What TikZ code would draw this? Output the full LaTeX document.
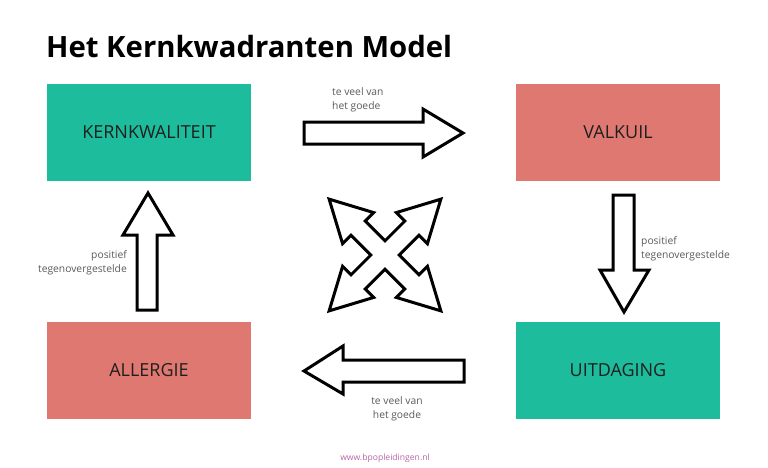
\documentclass[tikz,border=0pt]{standalone}
\usepackage{fontspec}
\setmainfont{Open Sans}
\definecolor{kwteal}{RGB}{29,188,156}
\definecolor{kwsalmon}{RGB}{224,120,114}
\definecolor{kwgray}{RGB}{90,90,90}
\definecolor{kwlink}{RGB}{185,100,165}
\tikzset{
  quadrant/.style={minimum width=204pt, minimum height=97pt, inner sep=0pt,
    text=black!88, font=\fontsize{18}{21}\selectfont},
  blockarrow/.style={draw=black, line width=3pt, line join=miter, fill=white},
  note/.style={inner sep=0pt, text=kwgray, font=\fontsize{10.3}{14}\selectfont}
}
\begin{document}
\begin{tikzpicture}[x=1pt,y=-1pt]
  \useasboundingbox (0,0) rectangle (768,467);
  \node[anchor=base west, inner sep=0pt, font=\fontsize{29.3}{33}\selectfont\bfseries] (title) at (46,57) {Het Kernkwadranten Model};

  \node[quadrant, fill=kwteal] (kern) at (149,132.5) {KERNKWALITEIT};
  \node[quadrant, fill=kwsalmon] (valk) at (618,132.5) {VALKUIL};
  \node[quadrant, fill=kwteal] (uitd) at (618,370.5) {UITDAGING};
  \node[quadrant, fill=kwsalmon] (allg) at (149,370.5) {ALLERGIE};

  % block arrows between the quadrants
  \draw[blockarrow] (304,122) -- (423,122) -- (423,109) -- (463,133) -- (423,157) -- (423,144) -- (304,144) -- cycle;
  \draw[blockarrow] (613,195) -- (634,195) -- (634,270) -- (649,270) -- (624,312) -- (600,270) -- (613,270) -- cycle;
  \draw[blockarrow] (464,360) -- (343,360) -- (343,346) -- (304,371) -- (343,394) -- (343,382) -- (464,382) -- cycle;
  \draw[blockarrow] (137,310) -- (157,310) -- (157,235) -- (173,235) -- (148,193) -- (123,235) -- (137,235) -- cycle;

  % four-way arrow in the middle
  \begin{scope}[shift={(385,255)}]
    \draw[blockarrow] ([rotate=45]10,10)
      \foreach \a in {45,135,225,315} {
        -- ([rotate=\a]38,10) -- ([rotate=\a]38,22) -- ([rotate=\a]79,0)
        -- ([rotate=\a]38,-22) -- ([rotate=\a]38,-10) -- ([rotate=\a]10,-10)
      } -- cycle;
  \end{scope}

  \node[note, anchor=north west, align=left] (top) at (332,87) {te veel van\\het goede};
  \node[note, anchor=north west, align=left] (right) at (641,236) {positief\\tegenovergestelde};
  \node[note, anchor=north, align=center] (bottom) at (397,396) {te veel van\\het goede};
  \node[note, anchor=north east, align=right] (left) at (127,250) {positief\\tegenovergestelde};

  \node[inner sep=0pt, text=kwlink, font=\fontsize{8.6}{10}\selectfont] (site) at (385,458) {www.bpopleidingen.nl};
\end{tikzpicture}
\end{document}
